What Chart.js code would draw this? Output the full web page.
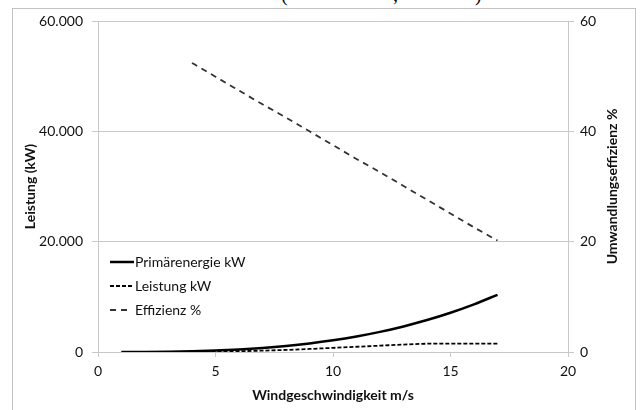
<!DOCTYPE html>
<html>
<head>
<meta charset="utf-8">
<script src="https://cdn.jsdelivr.net/npm/chart.js@4.4.0/dist/chart.umd.min.js"></script>
<style>
  body { margin: 0; background: #fff; overflow: hidden; }
  .rahmen { position: absolute; left: 12px; top: 8px; width: 622px; height: 410px; border: 1px solid #c3c3c3; }
  .grafico { position: absolute; left: 0; top: 0; }
  .kopf span { position: absolute; top: -16.5px; font: 20px/20px 'Liberation Serif', serif; color: #000; }
</style>
</head>
<body>
<div class="kopf"><span style="left:281px">(</span><span style="left:393px">,</span><span style="left:475px">)</span></div>
<div class="rahmen"></div>
<canvas class="grafico" width="641" height="410"></canvas>
<script>
const windSpeed = [1, 2, 3, 4, 5, 6, 7, 8, 9, 10, 11, 12, 13, 14, 15, 16, 17];
const primaerenergie = [2, 17, 57, 135, 264, 456, 724, 1080, 1538, 2110, 2808, 3646, 4636, 5790, 7121, 8642, 10366];
const leistung = [0, 0, 5, 30, 80, 150, 250, 380, 550, 750, 950, 1150, 1350, 1500, 1520, 1520, 1520];
const effizienzSpeed = [4, 5, 6, 7, 8, 9, 10, 11, 12, 13, 14, 15, 16, 17];
const effizienz = [52.4, 49.9, 47.4, 44.9, 42.5, 40.0, 37.5, 35.0, 32.6, 30.1, 27.6, 25.1, 22.6, 20.2];

const schrift = "Lato, 'Open Sans', sans-serif";
const grau = '#c8c8c8';

const punkte = (xs, ys) => xs.map((x, i) => ({ x: x, y: ys[i] }));

const formatZahl = (v) => String(v).replace(/\B(?=(\d{3})+(?!\d))/g, '.');

// Legende im Diagramm, wie in Excel
const legendePlugin = {
    id: 'legende',
    afterDraw(chart) {
        const ctx = chart.ctx;
        ctx.save();
        chart.data.datasets.forEach((ds, i) => {
            const y = 262 + i * 24;
            ctx.strokeStyle = ds.borderColor;
            ctx.lineWidth = ds.borderWidth;
            ctx.setLineDash(ds.borderDash || []);
            ctx.beginPath();
            ctx.moveTo(110, y);
            ctx.lineTo(ds.legendEnde || 134, y);
            ctx.stroke();
            ctx.setLineDash([]);
            ctx.fillStyle = '#111';
            ctx.font = "14px " + schrift;
            ctx.textBaseline = 'middle';
            ctx.fillText(ds.label, 135, y);
        });
        // rechter Achsentitel, von unten nach oben gelesen
        const area = chart.chartArea;
        ctx.translate(612, (area.top + area.bottom) / 2);
        ctx.rotate(-Math.PI / 2);
        ctx.font = "bold 14px " + schrift;
        ctx.textAlign = 'center';
        ctx.fillText('Umwandlungseffizienz %', 0, 0);
        ctx.restore();
    }
};

const config = {
    type: 'line',
    data: {
        datasets: [{
            label: 'Primärenergie kW',
            data: punkte(windSpeed, primaerenergie),
            borderColor: '#000',
            borderWidth: 2.5,
            yAxisID: 'y',
        }, {
            label: 'Leistung kW',
            data: punkte(windSpeed, leistung),
            borderColor: '#000',
            borderWidth: 1.8,
            borderDash: [4, 2],
            yAxisID: 'y',
        }, {
            label: 'Effizienz %',
            data: punkte(effizienzSpeed, effizienz),
            borderColor: '#333',
            borderWidth: 1.8,
            borderDash: [6, 5],
            legendEnde: 127,
            yAxisID: 'y1',
        }]
    },
    options: {
        responsive: false,
        animation: false,
        devicePixelRatio: 1,
        layout: { padding: { top: 21, left: 0, right: 0, bottom: 0 } },
        elements: { point: { radius: 0 }, line: { tension: 0.4, cubicInterpolationMode: 'monotone' } },
        plugins: { legend: { display: false }, tooltip: { enabled: false } },
        scales: {
            x: {
                type: 'linear',
                min: 0, max: 20,
                afterFit: (s) => { s.height = 58; },
                ticks: { stepSize: 5, color: '#111', padding: 6, font: { family: schrift, size: 14 } },
                grid: { drawOnChartArea: false, color: grau, tickLength: 5 },
                border: { color: grau },
                title: { display: true, text: 'Windgeschwindigkeit m/s', color: '#111', padding: { bottom: 6 }, font: { family: schrift, size: 14, weight: 'bold' } },
            },
            y: {
                position: 'left',
                min: 0, max: 60000,
                afterFit: (s) => { s.width = 98; },
                ticks: { stepSize: 20000, color: '#111', padding: 9, font: { family: schrift, size: 14 }, callback: (v) => formatZahl(v) },
                grid: { color: grau, tickLength: 6 },
                border: { color: grau },
                title: { display: true, text: 'Leistung (kW)', color: '#111', padding: { top: 22 }, font: { family: schrift, size: 14, weight: 'bold' } },
            },
            y1: {
                position: 'right',
                min: 0, max: 60,
                afterFit: (s) => { s.width = 73; },
                ticks: { stepSize: 20, color: '#111', padding: 6, font: { family: schrift, size: 14 } },
                grid: { drawOnChartArea: false, color: grau, tickLength: 6 },
                border: { color: grau },
            }
        }
    },
    plugins: [legendePlugin]
};

const canvas = document.querySelector('.grafico');
new Chart(canvas, config);
</script>
</body>
</html>
